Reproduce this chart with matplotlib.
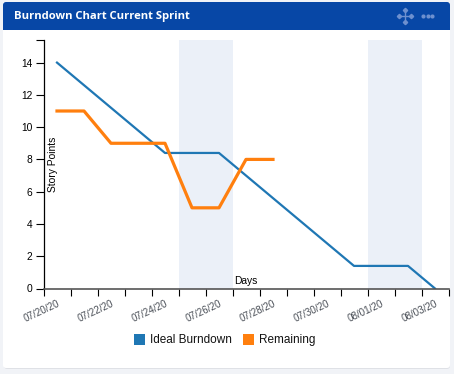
import pandas as pd
import matplotlib
matplotlib.use('Agg')
import matplotlib.pyplot as plt
from matplotlib.patches import FancyBboxPatch, Rectangle
from matplotlib.transforms import ScaledTranslation
from datetime import timedelta

plt.rcParams['font.family'] = ['Liberation Sans', 'DejaVu Sans']

title = 'Burndown Chart Current Sprint'
dates = pd.date_range('2020-07-20', '2020-08-03')
ideal = [14, 12.6, 11.2, 9.8, 8.4, 8.4, 8.4, 7, 5.6, 4.2, 2.8, 1.4, 1.4, 1.4, 0]
remaining = [11, 11, 9, 9, 9, 5, 5, 8, 8]
weekends = [('2020-07-25', '2020-07-27'), ('2020-08-01', '2020-08-03')]

blue = '#1f77b4'
orange = '#ff7f0e'
W, H = 454, 374

fig = plt.figure(figsize=(W / 100, H / 100), dpi=100, facecolor='#f1f3f7')

# card and header, drawn in pixel coordinates
bg = fig.add_axes([0, 0, 1, 1], zorder=0)
bg.set_xlim(0, W)
bg.set_ylim(H, 0)
bg.axis('off')
bg.add_patch(FancyBboxPatch((4, 3), 446, 366, boxstyle='round,pad=0,rounding_size=3',
                            fc='#dfe1e6', ec='none'))
bg.add_patch(FancyBboxPatch((3, 2), 447, 366, boxstyle='round,pad=0,rounding_size=3',
                            fc='white', ec='none'))
bg.add_patch(FancyBboxPatch((3, 2), 447, 20, boxstyle='round,pad=0,rounding_size=3',
                            fc='#0747a6', ec='none'))
bg.add_patch(Rectangle((3, 12), 447, 18, fc='#0747a6', ec='none'))
bg.text(14, 16.5, title, color='white', fontsize=8.1, fontweight='bold',
        family=['Open Sans', 'DejaVu Sans'], va='center', ha='left')

# header icons
icon = '#6d90cf'
bg.plot([405, 405], [9, 23], color=icon, lw=1)
bg.plot([398, 412], [16, 16], color=icon, lw=1)
bg.plot([405, 405], [10, 22], ls='none', marker='D', ms=2.2, color=icon)
bg.plot([399, 411], [16, 16], ls='none', marker='D', ms=2.2, color=icon)
bg.plot([423, 427.5, 432], [16, 16, 16], ls='none', marker='o', ms=3, mew=0, color=icon)

# chart area
x0, x1, y0, y1 = 43.5, 448.5, 40, 288.5
ax = fig.add_axes([x0 / W, 1 - y1 / H, (x1 - x0) / W, (y1 - y0) / H], zorder=1)
ax.patch.set_alpha(0)

half = timedelta(hours=12)
for start, end in weekends:
    ax.axvspan(pd.Timestamp(start), pd.Timestamp(end), color='#ebf0f8', lw=0, zorder=0)

ax.plot(dates + half, ideal, color=blue, lw=1.6, zorder=2, label='Ideal Burndown')
ax.plot(dates[:len(remaining)] + half, remaining, color=orange, lw=2.3, zorder=3, label='Remaining')

ax.set_xlim(dates[0], dates[-1] + timedelta(days=1))
ax.set_ylim(0, 15.4)

tick_days = pd.date_range(dates[0], periods=16)
labels = [d.strftime('%m/%d/%y') if i % 2 == 0 and i < 15 else '' for i, d in enumerate(tick_days)]
ax.set_xticks(tick_days)
ax.set_xticklabels(labels, rotation=25, ha='center', color='#4a4f57', fontsize=7.1)
ax.set_yticks([0, 2, 4, 6, 8, 10, 12, 14, 15.4])
ax.set_yticklabels(['0', '2', '4', '6', '8', '10', '12', '14', ''], fontsize=7.4, color='black')
ax.tick_params(axis='x', length=5, width=0.8, pad=2.5, color='black')
ax.tick_params(axis='y', length=6, width=0.8, pad=2, color='black')

# nudge date labels left a little
nudge = ScaledTranslation(-2 / 100, 0, fig.dpi_scale_trans)
for lab in ax.get_xticklabels():
    lab.set_transform(lab.get_transform() + nudge)

for s in ['top', 'right']:
    ax.spines[s].set_visible(False)
ax.spines['left'].set_linewidth(0.9)
ax.spines['bottom'].set_linewidth(1.2)
ax.spines['bottom'].set_color('#555555')

bg.text(246, 281, 'Days', fontsize=7.4, ha='center', va='center', color='black')
fig.text(53.5 / W, 1 - 164 / H, 'Story Points', fontsize=7.4, rotation=90, ha='center', va='center',
         color='black', zorder=5)

# legend squares and names
bg.add_patch(Rectangle((134, 334), 10.5, 10.5, fc=blue, ec='none'))
bg.text(150, 340, 'Ideal Burndown', fontsize=8.5, ha='left', va='center', color='#111111')
bg.add_patch(Rectangle((243, 334), 10.5, 10.5, fc=orange, ec='none'))
bg.text(259, 340, 'Remaining', fontsize=8.5, ha='left', va='center', color='#111111')

plt.savefig('out.png', dpi=100)
plt.close()
